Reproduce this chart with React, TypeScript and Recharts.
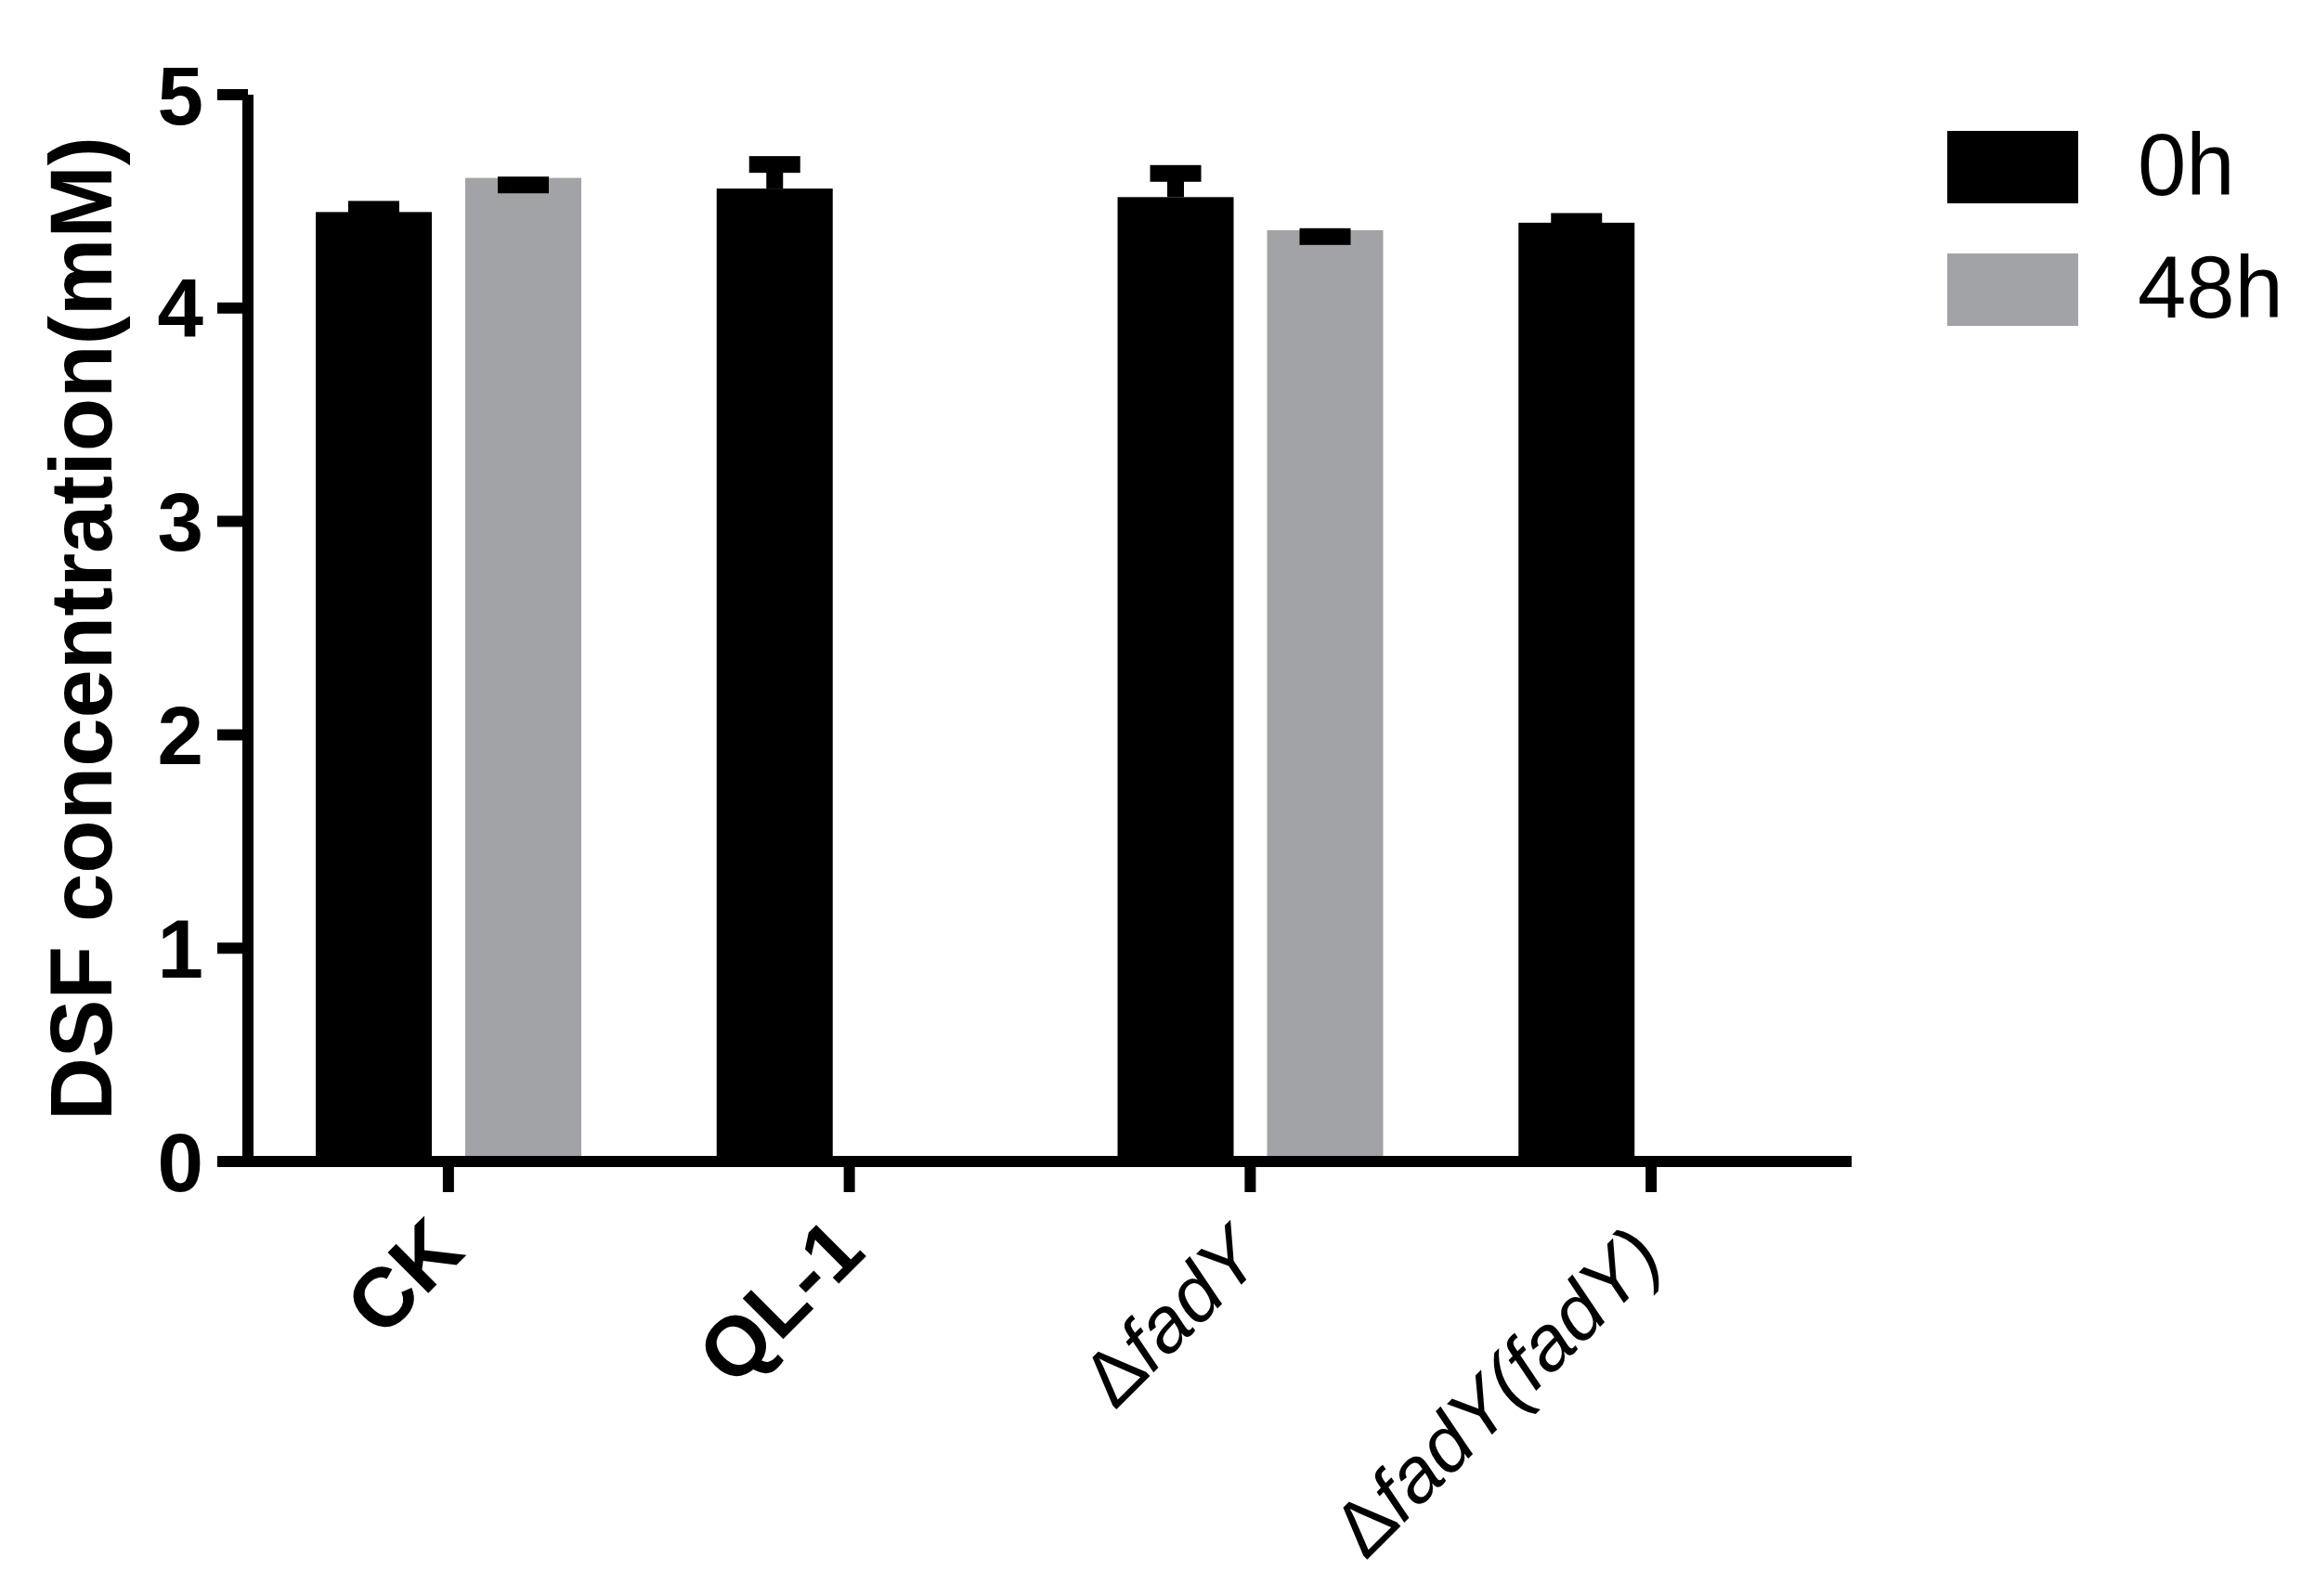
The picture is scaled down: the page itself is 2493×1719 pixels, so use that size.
import { BarChart, Bar, XAxis, YAxis } from "recharts";

// strains on the x axis
const categories = ["CK", "QL-1", "ΔfadY", "ΔfadY(fadY)"];
// DSF concentration (mM), mean and SD per time point
const mean0h = [4.45, 4.56, 4.52, 4.4];
const sd0h = [0.013, 0.113, 0.111, 0.006];
const mean48h = [4.61, null, 4.365, null];
const sd48h = [0.033, null, 0.03, null];
const yTicks = [0, 1, 2, 3, 4, 5];
const seriesNames = ["0h", "48h"];
const COLORS = ["#000000", "#a2a3a6"];

const FONT = "'Liberation Sans', Arial, Helvetica, sans-serif";

const data = categories.map((name, i) => ({
  name,
  h0: mean0h[i],
  h0sd: sd0h[i],
  h48: mean48h[i],
  h48sd: sd48h[i],
}));

// Prism-style bar: 0h error drawn upwards, 48h error drawn downwards
function ErrorBarShape(props: any) {
  const { x, y, width, height, fill, payload, valueKey, sdKey, dir } = props;
  const val = payload[valueKey];
  const sd = payload[sdKey];
  if (val == null || height <= 0) return null;
  const pxPerUnit = height / val;
  const errPx = (sd || 0) * pxPerUnit;
  const cx = x + width / 2;
  const capY = y + dir * errPx;
  const stemTop = Math.min(y, capY);
  const stemH = Math.abs(capY - y);
  return (
    <g>
      <rect x={x} y={y} width={width} height={height} fill={fill} />
      <rect x={cx - 9} y={stemTop} width={18} height={stemH} fill="#000" />
      <rect x={cx - 27.5} y={capY - 9} width={55} height={18} fill="#000" />
    </g>
  );
}

function CategoryTick({ x, y, payload }: any) {
  const label: string = payload.value;
  let parts: [string, boolean][] = [];
  let bold = true;
  if (label === "ΔfadY") {
    bold = false;
    parts = [["Δ", false], ["fadY", true]];
  } else if (label === "ΔfadY(fadY)") {
    bold = false;
    parts = [["Δ", false], ["fadY(fadY)", true]];
  } else {
    parts = [[label, false]];
  }
  const dx = bold ? 20 : 16;
  const dy = bold ? 67 : 74;
  return (
    <g transform={`translate(${x + dx},${y + dy})`}>
      <text
        textAnchor="end"
        transform="rotate(-45)"
        fontSize={bold ? 90 : 84}
        fontFamily={FONT}
        fontWeight={bold ? "bold" : "normal"}
        fill="#000"
      >
        {parts.map(([t, it], i) => (
          <tspan key={i} fontStyle={it ? "italic" : "normal"}>
            {t}
          </tspan>
        ))}
      </text>
    </g>
  );
}

function ValueTick({ x, y, payload }: any) {
  return (
    <text
      x={x}
      y={y}
      dy="0.355em"
      textAnchor="end"
      fontSize={89}
      fontWeight="bold"
      fontFamily={FONT}
      fill="#000"
    >
      {payload.value}
    </text>
  );
}

export default function App() {
  return (
    <div style={{ position: "relative", width: 2477, height: 1703 }}>
      <BarChart
        width={2477}
        height={1703}
        data={data}
        margin={{ top: 94, right: 491, bottom: 60, left: 59 }}
        barSize={125}
        barGap={36}
      >
        <Bar
          dataKey="h0"
          name={seriesNames[0]}
          fill={COLORS[0]}
          isAnimationActive={false}
          shape={(p: any) => (
            <ErrorBarShape {...p} valueKey="h0" sdKey="h0sd" dir={-1} />
          )}
        />
        <Bar
          dataKey="h48"
          name={seriesNames[1]}
          fill={COLORS[1]}
          isAnimationActive={false}
          shape={(p: any) => (
            <ErrorBarShape {...p} valueKey="h48" sdKey="h48sd" dir={1} />
          )}
        />
        <XAxis
          dataKey="name"
          height={400}
          interval={0}
          axisLine={{ stroke: "#000", strokeWidth: 12 }}
          tickLine={{ stroke: "#000", strokeWidth: 12 }}
          tickSize={33}
          tickMargin={0}
          tick={<CategoryTick />}
        />
        <YAxis
          width={200}
          domain={[0, 5]}
          ticks={yTicks}
          interval={0}
          axisLine={{ stroke: "#000", strokeWidth: 12 }}
          tickLine={{ stroke: "#000", strokeWidth: 12 }}
          tickSize={33}
          tickMargin={15}
          tick={<ValueTick />}
          label={{
            content: () => (
              <text
                transform="translate(112,669) rotate(-90)"
                textAnchor="middle"
                fontSize={94}
                fontWeight="bold"
                fontFamily={FONT}
                fill="#000"
              >
                DSF concentration(mM)
              </text>
            ),
          }}
        />
      </BarChart>
      <div style={{ position: "absolute", left: 2089, top: 133 }}>
        <svg width={390} height={260} style={{ overflow: "visible" }}>
          {seriesNames.map((n, i) => (
            <g key={n} transform={`translate(0,${i * 132})`}>
              <rect x={0} y={0} width={141} height={78} fill={COLORS[i]} />
              <text
                x={205}
                y={69}
                fontSize={94}
                fontFamily={FONT}
                fill="#000"
              >
                {n}
              </text>
            </g>
          ))}
        </svg>
      </div>
    </div>
  );
}
